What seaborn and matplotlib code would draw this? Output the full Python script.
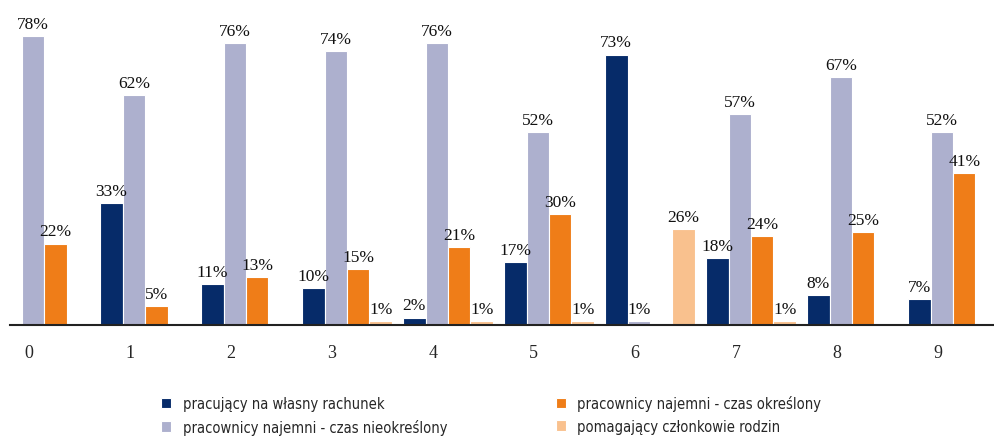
import numpy as np
import pandas as pd
import seaborn as sns
import matplotlib.pyplot as plt
from matplotlib import font_manager

grupy = [str(i) for i in range(10)]
wlasny = [0, 33, 11, 10, 2, 17, 73, 18, 8, 7]
nieokreslony = [78, 62, 76, 74, 76, 52, 1, 57, 67, 52]
okreslony = [22, 5, 13, 15, 21, 30, 0, 24, 25, 41]
rodzina = [0, 0, 0, 1, 1, 1, 26, 1, 0, 0]

serie = ['pracujący na własny rachunek',
         'pracownicy najemni - czas nieokreślony',
         'pracownicy najemni - czas określony',
         'pomagający członkowie rodzin']
kolory = ['#062b69', '#adb0ce', '#ef7d18', '#f9c18e']

tabela = pd.DataFrame({
    'grupa': grupy * 4,
    'seria': np.repeat(serie, 10),
    'wartosc': wlasny + nieokreslony + okreslony + rodzina,
})

# waska czcionka do legendy, jesli jest
fonty = font_manager.fontManager.ttflist
nazwy = {f.name for f in fonty}
if 'Liberation Sans Narrow' in nazwy:
    font_legendy = {'family': 'Liberation Sans Narrow', 'size': 11.5}
elif any(f.name == 'DejaVu Sans' and 'condensed' in str(f.stretch) for f in fonty):
    font_legendy = {'family': 'DejaVu Sans', 'stretch': 'condensed', 'size': 10.5}
else:
    font_legendy = {'family': 'Liberation Sans', 'size': 10.5}

sns.set_style('white')
plt.rcParams['font.family'] = ['Liberation Serif', 'DejaVu Serif']

fig = plt.figure(figsize=(9.94, 4.39), dpi=100)
ax = fig.add_axes([10 / 994, 113 / 439, 984 / 994, 326 / 439])

sns.barplot(data=tabela, x='grupa', y='wartosc', hue='seria', order=grupy,
            hue_order=serie, palette=kolory, width=0.89, gap=0,
            edgecolor='white', linewidth=0.8, saturation=1, ax=ax)

for kontener, wartosci in zip(ax.containers, [wlasny, nieokreslony, okreslony, rodzina]):
    ax.bar_label(kontener, labels=[f'{v}%' if v > 0 else '' for v in wartosci],
                 padding=3, fontsize=12.5, color='#111111')

ax.set_xlim(-0.337, 9.406)
ax.set_ylim(0, 88)
ax.set_xticks(np.arange(10) - 0.15, grupy)
ax.tick_params(axis='x', length=0, pad=14, labelsize=13)
ax.set_yticks([])
ax.set_xlabel('')
ax.set_ylabel('')
for s in ['top', 'right', 'left']:
    ax.spines[s].set_visible(False)
ax.spines['bottom'].set_color('#222222')
ax.spines['bottom'].set_linewidth(1.5)

uchwyty, etykiety = ax.get_legend_handles_labels()
ax.legend().remove()
fig.legend(uchwyty, etykiety, loc='upper left', bbox_to_anchor=(0.149, 0.127),
           ncol=2, frameon=False, handlelength=0.7, handleheight=0.7,
           handletextpad=0.8, columnspacing=7.4, labelspacing=0.5,
           prop=font_legendy)

plt.savefig('out.png', dpi=100)
plt.close()
